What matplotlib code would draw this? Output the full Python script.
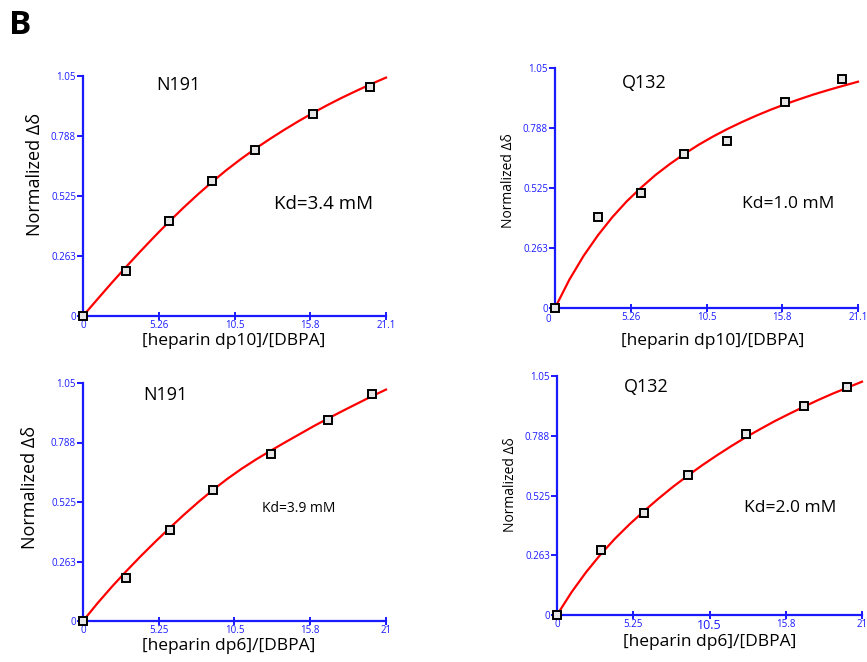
import numpy as np
import matplotlib.pyplot as plt

plt.rcParams["font.family"] = ["Open Sans", "DejaVu Sans"]

W, H = 867, 662

# titration points, heparin dp10
dp10_x = [0, 3, 6, 9, 12, 16, 20]
n191_dp10_y = [0, 0.198, 0.417, 0.591, 0.726, 0.885, 1.0]
q132_dp10_y = [0, 0.398, 0.505, 0.674, 0.730, 0.901, 1.0]

# titration points, heparin dp6
dp6_x = [0, 3, 6, 9, 13, 17, 20]
n191_dp6_y = [0, 0.191, 0.402, 0.579, 0.736, 0.885, 1.0]
q132_dp6_y = [0, 0.284, 0.448, 0.615, 0.797, 0.917, 1.0]

# fitted binding curves, sampled at unit steps
fit10_x = [0, 1, 2, 3, 4, 5, 6, 7, 8, 9, 10, 11, 12, 13, 14, 15, 16, 17, 18, 19, 20, 21.1]
n191_dp10_fit = [0, 0.073, 0.145, 0.215, 0.283, 0.349, 0.413, 0.474, 0.532, 0.587, 0.639,
                 0.687, 0.732, 0.774, 0.814, 0.852, 0.888, 0.922, 0.954, 0.984, 1.013, 1.043]
q132_dp10_fit = [0, 0.124, 0.229, 0.319, 0.398, 0.467, 0.527, 0.582, 0.630, 0.674, 0.714,
                 0.750, 0.783, 0.813, 0.841, 0.867, 0.891, 0.913, 0.934, 0.953, 0.971, 0.990]
fit6_x = [0, 1, 2, 3, 4, 5, 6, 7, 8, 9, 10, 11, 12, 13, 14, 15, 16, 17, 18, 19, 20, 21]
n191_dp6_fit = [0, 0.078, 0.151, 0.220, 0.286, 0.349, 0.410, 0.469, 0.525, 0.578, 0.627,
                0.672, 0.713, 0.751, 0.788, 0.824, 0.860, 0.894, 0.927, 0.959, 0.991, 1.021]
q132_dp6_fit = [0, 0.100, 0.188, 0.266, 0.336, 0.399, 0.457, 0.512, 0.564, 0.612, 0.658,
                0.701, 0.742, 0.781, 0.817, 0.852, 0.884, 0.915, 0.945, 0.973, 0.999, 1.025]

y_ticks = [0, 0.2625, 0.525, 0.7875, 1.05]
y_labels = ["0", "0.263", "0.525", "0.788", "1.05"]
dp10_ticks = [0, 5.275, 10.55, 15.825, 21.1]
dp10_labels = ["0", "5.26", "10.5", "15.8", "21.1"]
dp6_ticks = [0, 5.25, 10.5, 15.75, 21]
dp6_labels = ["0", "5.25", "10.5", "15.8", "21"]

BLUE = "#1a1aff"


def px_axes(fig, left, top, right, bottom):
    return fig.add_axes([left / W, 1 - bottom / H, (right - left) / W, (bottom - top) / H])


def ftext(fig, x, y, s, **kw):
    fig.text(x / W, 1 - y / H, s, ha="center", va="center", **kw)


def panel(ax, px, py, fx, fy, xticks, xlabels):
    ax.plot(fx, fy, color="red", lw=1.6, clip_on=False, zorder=2,
            solid_joinstyle="round")
    ax.plot(px, py, ls="none", marker="s", ms=5.5, mfc="#e6e6e6", mec="black",
            mew=1.4, clip_on=False, zorder=3)
    ax.set_xlim(0, xticks[-1])
    ax.set_ylim(0, 1.05)
    for side in ("top", "right"):
        ax.spines[side].set_visible(False)
    for side in ("left", "bottom"):
        ax.spines[side].set_color(BLUE)
        ax.spines[side].set_linewidth(1.6)
    ax.set_xticks(xticks, xlabels)
    ax.set_yticks(y_ticks, y_labels)
    ax.tick_params(axis="x", direction="inout", length=6, width=1.4, color=BLUE,
                   labelcolor=BLUE, labelsize=7, pad=0)
    ax.tick_params(axis="y", direction="out", length=4, width=1.4, color=BLUE,
                   labelcolor=BLUE, labelsize=7, pad=1)
    ax.set_facecolor("none")


fig = plt.figure(figsize=(W / 100, H / 100), dpi=100)

ax1 = px_axes(fig, 83, 76, 386, 316)
panel(ax1, dp10_x, n191_dp10_y, fit10_x, n191_dp10_fit, dp10_ticks, dp10_labels)
ax2 = px_axes(fig, 555, 68, 858, 308)
panel(ax2, dp10_x, q132_dp10_y, fit10_x, q132_dp10_fit, dp10_ticks, dp10_labels)
ax3 = px_axes(fig, 83, 383, 386, 621)
panel(ax3, dp6_x, n191_dp6_y, fit6_x, n191_dp6_fit, dp6_ticks, dp6_labels)
ax4 = px_axes(fig, 557, 376, 862, 615)
panel(ax4, dp6_x, q132_dp6_y, fit6_x, q132_dp6_fit, dp6_ticks, dp6_labels)

# odd tick labels in the right-hand panels
ax2.get_xticklabels()[0].set_visible(False)
ftext(fig, 548, 320, "0", color=BLUE, fontsize=7)
ax4.get_xticklabels()[2].set_fontsize(9)

ftext(fig, 20, 26, "B", fontsize=24, fontweight="bold")

ftext(fig, 178, 85, "N191", fontsize=13)
ftext(fig, 644, 83, "Q132", fontsize=13)
ftext(fig, 165, 395, "N191", fontsize=13)
ftext(fig, 646, 387, "Q132", fontsize=13)

ftext(fig, 324, 204, "Kd=3.4 mM", fontsize=13.5)
ftext(fig, 788, 204, "Kd=1.0 mM", fontsize=12.5)
ftext(fig, 299, 509, "Kd=3.9 mM", fontsize=10)
ftext(fig, 790, 508, "Kd=2.0 mM", fontsize=12.5)

ftext(fig, 35, 174, "Normalized \u0394\u03b4", fontsize=13, rotation=90)
ftext(fig, 508, 181, "Normalized \u0394\u03b4", fontsize=10, rotation=90)
ftext(fig, 30, 487, "Normalized \u0394\u03b4", fontsize=13, rotation=90)
ftext(fig, 510, 485, "Normalized \u0394\u03b4", fontsize=10, rotation=90)

ftext(fig, 234, 341, "[heparin dp10]/[DBPA]", fontsize=12.5)
ftext(fig, 713, 341, "[heparin dp10]/[DBPA]", fontsize=12.5)
ftext(fig, 229, 646, "[heparin dp6]/[DBPA]", fontsize=12.5)
ftext(fig, 710, 642, "[heparin dp6]/[DBPA]", fontsize=12.5)

fig.savefig("out.png", dpi=100)
